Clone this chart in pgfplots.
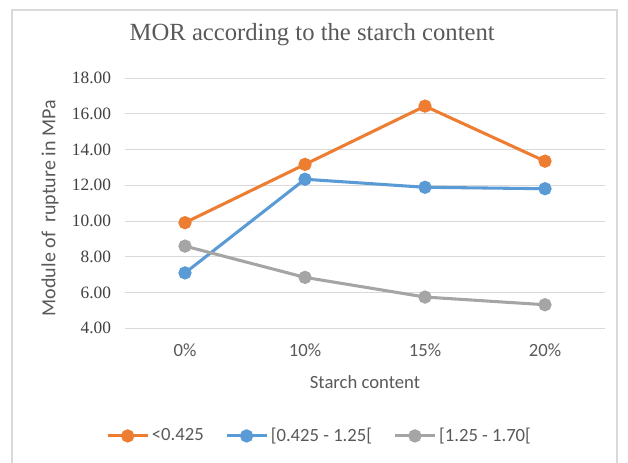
\documentclass[border=0pt]{standalone}
\usepackage{pgfplots}
\pgfplotsset{compat=1.18}
\usepackage{fontspec}
\setmainfont{Liberation Serif}
\newfontfamily\calibri{Carlito}
\newfontfamily\timesf{Liberation Serif}
\definecolor{xorange}{HTML}{ED7D31}
\definecolor{xblue}{HTML}{5B9BD5}
\definecolor{xgray}{HTML}{A5A5A5}
\definecolor{xgrid}{HTML}{D9D9D9}
\definecolor{xtext}{HTML}{595959}
\definecolor{xdark}{HTML}{404040}
\begin{document}
\begin{tikzpicture}
\useasboundingbox (0,0) rectangle (471pt,347.25pt);
\draw[xgrid, line width=1pt] (9pt,0) -- (9pt,339.75pt) -- (462.75pt,339.75pt) -- (462.75pt,0);
\begin{axis}[
  at={(93.75pt,101pt)}, anchor=south west,
  scale only axis, width=360pt, height=187.7pt,
  xmin=-0.5, xmax=3.5, ymin=4, ymax=18,
  xtick={0,1,2,3},
  xticklabels={{\calibri 0\%},{\calibri 10\%},{\calibri 15\%},{\calibri 20\%}},
  ytick={4,6,...,18},
  yticklabels={{\timesf 4.00},{\timesf 6.00},{\timesf 8.00},{\timesf 10.00},{\timesf 12.00},{\timesf 14.00},{\timesf 16.00},{\timesf 18.00}},
  axis line style={draw=none},
  major tick length=0pt,
  ymajorgrids, grid style={xgrid, line width=0.8pt},
  yticklabel style={font=\fontsize{13}{15}\selectfont, text=xdark, xshift=-7pt},
  xticklabel style={font=\fontsize{14}{16}\selectfont, text=xtext, yshift=-8pt},
  title={MOR according to the starch content},
  title style={font=\timesf\fontsize{18.5}{21}\selectfont, text=xtext, at={(axis description cs:0.39,1.14)}, anchor=center},
  xlabel={Starch content},
  xlabel style={font=\calibri\fontsize{14}{16}\selectfont, text=xtext, at={(axis description cs:0.5,-0.2146)}, anchor=center},
  ylabel={Module of\ \ rupture in MPa},
  ylabel style={font=\calibri\fontsize{15}{17}\selectfont, text=xtext, at={(axis description cs:-0.156,0.48)}, anchor=center, rotate=0},
  legend columns=3,
  legend style={draw=none, fill=none, at={(axis description cs:0.406,-0.43)}, anchor=center,
    font=\calibri\fontsize{14}{16}\selectfont, text=xtext,
    /tikz/every even column/.append style={column sep=14pt}},
  legend image code/.code={\draw[mark repeat=2,mark phase=2] plot coordinates {(0pt,0pt) (15pt,0pt) (30pt,0pt)};},
  every axis plot/.append style={line width=2.3pt, mark=*, mark size=3.8pt},
]
\addplot[xorange, mark options={fill=xorange, draw=xorange}] coordinates {(0,9.91) (1,13.17) (2,16.43) (3,13.35)};
\addlegendentry{<0.425}
\addplot[xblue, mark options={fill=xblue, draw=xblue}] coordinates {(0,7.10) (1,12.34) (2,11.89) (3,11.81)};
\addlegendentry{[0.425 - 1.25[}
\addplot[xgray, mark options={fill=xgray, draw=xgray}] coordinates {(0,8.60) (1,6.85) (2,5.75) (3,5.32)};
\addlegendentry{[1.25 - 1.70[}
\end{axis}
\end{tikzpicture}
\end{document}
